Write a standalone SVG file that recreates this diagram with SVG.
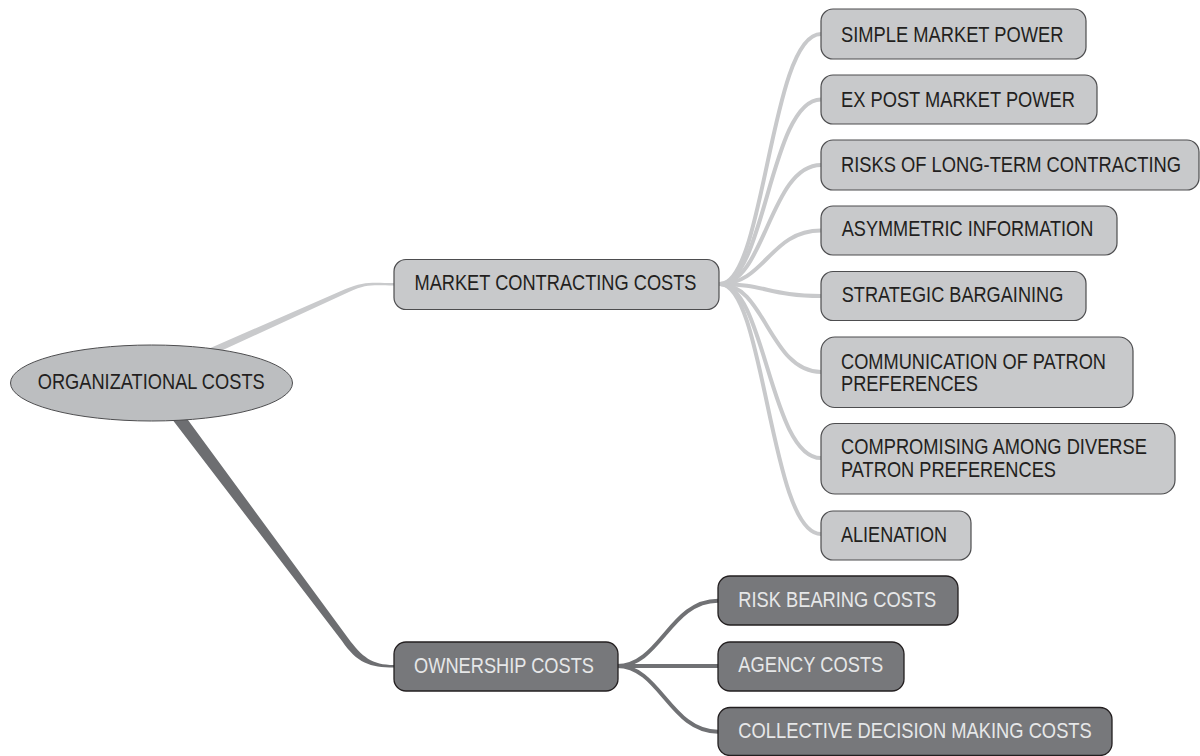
<svg xmlns="http://www.w3.org/2000/svg" width="1200" height="756" viewBox="0 0 1200 756">
<style>
.t{font-family:"Liberation Sans",Arial,sans-serif;font-size:18.3px;}
.dk{fill:#231f20;}
.lt{fill:#e6e7e8;}
.lb{fill:#c8c9cb;stroke:#4d4d4f;stroke-width:1.2;}
.db{fill:#77787b;stroke:#231f20;stroke-width:1.3;}
.lc{fill:none;stroke:#c8c9cb;stroke-width:4;stroke-linecap:round;}
.dc{fill:none;stroke:#707174;stroke-width:4;stroke-linecap:round;}
</style>
<rect width="1200" height="756" fill="#ffffff"/>
<g id="connectors">
<path d="M195,354.7 L345,289.3 C365,280.5 375,283 394,283 L394,285.5 C375,285.5 367,283.5 350,291.5 L205,358.2 Z" fill="#c9cacc"/>
<path d="M157.4,400 L342,641 C357,663 370,667.5 394,667.5 L394,665 C372,665 362,657 348,638 L173.3,400 Z" fill="#6d6e71"/>
<path class="lc" d="M720,284 C765,284 770,34 821,34"/>
<path class="lc" d="M720,284 C765,284 770,99.5 821,99.5"/>
<path class="lc" d="M720,284 C765,284 770,165 821,165"/>
<path class="lc" d="M720,284 C765,284 770,230.5 821,230.5"/>
<path class="lc" d="M720,284 C765,284 770,296 821,296"/>
<path class="lc" d="M720,284 C765,284 770,372 821,372"/>
<path class="lc" d="M720,284 C765,284 770,458 821,458"/>
<path class="lc" d="M720,284 C765,284 770,534 821,534"/>
<path class="dc" d="M617,666 C660,666 670,600.7 718,600.7"/>
<path class="dc" d="M617,666 L718,666"/>
<path class="dc" d="M617,666 C660,666 670,731.7 718,731.7"/>
</g>
<g id="organizational-costs">
<ellipse cx="151.5" cy="383" rx="141" ry="38" fill="#bcbec0" stroke="#4d4d4f" stroke-width="1"/>
<text class="t dk" x="37.7" y="389.3" transform="translate(0,-77.86) scale(1,1.2)" textLength="227" lengthAdjust="spacingAndGlyphs">ORGANIZATIONAL COSTS</text>
</g>
<g id="market-contracting-costs">
<rect class="lb" x="394" y="259.5" width="325" height="50" rx="12"/>
<text class="t dk" x="414.5" y="290" transform="translate(0,-58) scale(1,1.2)" textLength="282" lengthAdjust="spacingAndGlyphs">MARKET CONTRACTING COSTS</text>
</g>
<g id="simple-market-power">
<rect class="lb" x="821" y="9" width="265" height="50" rx="12"/>
<text class="t dk" x="841" y="41.7" transform="translate(0,-8.34) scale(1,1.2)" textLength="222.5" lengthAdjust="spacingAndGlyphs">SIMPLE MARKET POWER</text>
</g>
<g id="ex-post-market-power">
<rect class="lb" x="821" y="75" width="276" height="49" rx="12"/>
<text class="t dk" x="841" y="107" transform="translate(0,-21.4) scale(1,1.2)" textLength="234" lengthAdjust="spacingAndGlyphs">EX POST MARKET POWER</text>
</g>
<g id="risks-of-long-term-contracting">
<rect class="lb" x="821" y="140" width="378" height="50" rx="12"/>
<text class="t dk" x="841" y="172" transform="translate(0,-34.4) scale(1,1.2)" textLength="340" lengthAdjust="spacingAndGlyphs">RISKS OF LONG-TERM CONTRACTING</text>
</g>
<g id="asymmetric-information">
<rect class="lb" x="821" y="206" width="296" height="49" rx="12"/>
<text class="t dk" x="841.7" y="236" transform="translate(0,-47.2) scale(1,1.2)" textLength="251.6" lengthAdjust="spacingAndGlyphs">ASYMMETRIC INFORMATION</text>
</g>
<g id="strategic-bargaining">
<rect class="lb" x="821" y="271.5" width="265" height="49" rx="12"/>
<text class="t dk" x="841.7" y="301.7" transform="translate(0,-60.34) scale(1,1.2)" textLength="221.6" lengthAdjust="spacingAndGlyphs">STRATEGIC BARGAINING</text>
</g>
<g id="communication-of-patron-preferences">
<rect class="lb" x="821" y="337" width="312" height="70.5" rx="14"/>
<text class="t dk" x="841" y="369" transform="translate(0,-73.8) scale(1,1.2)" textLength="265" lengthAdjust="spacingAndGlyphs">COMMUNICATION OF PATRON</text>
<text class="t dk" x="841" y="391" transform="translate(0,-78.2) scale(1,1.2)" textLength="137" lengthAdjust="spacingAndGlyphs">PREFERENCES</text>
</g>
<g id="compromising-among-diverse-patron-preferences">
<rect class="lb" x="821" y="423.5" width="354" height="70.5" rx="14"/>
<text class="t dk" x="841" y="454" transform="translate(0,-90.8) scale(1,1.2)" textLength="306" lengthAdjust="spacingAndGlyphs">COMPROMISING AMONG DIVERSE</text>
<text class="t dk" x="841" y="477" transform="translate(0,-95.4) scale(1,1.2)" textLength="215" lengthAdjust="spacingAndGlyphs">PATRON PREFERENCES</text>
</g>
<g id="alienation">
<rect class="lb" x="821" y="511" width="150" height="49" rx="12"/>
<text class="t dk" x="841" y="541.7" transform="translate(0,-108.34) scale(1,1.2)" textLength="106" lengthAdjust="spacingAndGlyphs">ALIENATION</text>
</g>
<g id="ownership-costs">
<rect class="db" x="394" y="642" width="224" height="49" rx="12"/>
<text class="t lt" x="414" y="672.7" transform="translate(0,-134.54) scale(1,1.2)" textLength="180" lengthAdjust="spacingAndGlyphs">OWNERSHIP COSTS</text>
</g>
<g id="risk-bearing-costs">
<rect class="db" x="718" y="576" width="240" height="49" rx="12"/>
<text class="t lt" x="738.3" y="606.7" transform="translate(0,-121.34) scale(1,1.2)" textLength="198" lengthAdjust="spacingAndGlyphs">RISK BEARING COSTS</text>
</g>
<g id="agency-costs">
<rect class="db" x="718" y="642" width="186" height="49" rx="12"/>
<text class="t lt" x="738.3" y="672.5" transform="translate(0,-134.5) scale(1,1.2)" textLength="145" lengthAdjust="spacingAndGlyphs">AGENCY COSTS</text>
</g>
<g id="collective-decision-making-costs">
<rect class="db" x="718" y="707.5" width="394" height="48" rx="12"/>
<text class="t lt" x="738.3" y="738" transform="translate(0,-147.6) scale(1,1.2)" textLength="353.5" lengthAdjust="spacingAndGlyphs">COLLECTIVE DECISION MAKING COSTS</text>
</g>
</svg>
